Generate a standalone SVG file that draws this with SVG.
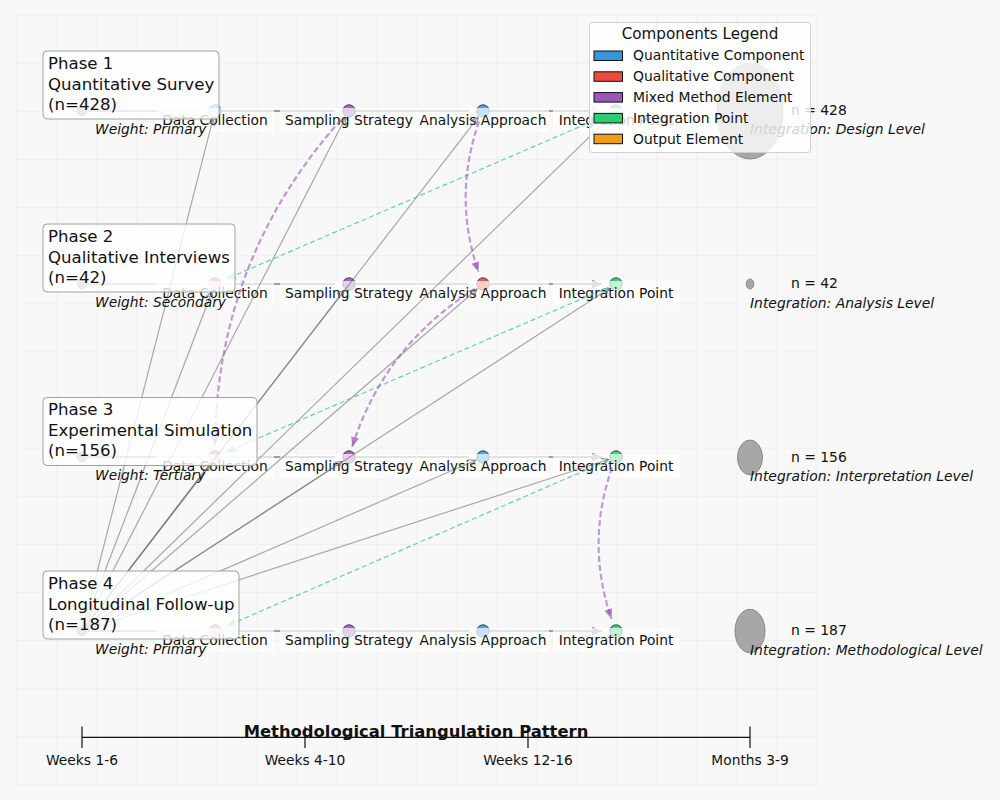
<svg xmlns="http://www.w3.org/2000/svg" width="1000" height="800" viewBox="0 0 1000 800">
<style>
text{font-family:"DejaVu Sans","Liberation Sans",sans-serif;fill:#111}
.ph{font-size:16.6px}
.lb{font-size:13.8px;text-anchor:middle}
.wt{font-size:13.8px;font-style:italic}
.nn{font-size:13.9px}
.il{font-size:13.9px;font-style:italic}
.lg{font-size:13.9px}
.tk{font-size:13.8px;text-anchor:middle}
.pbox{fill:#fff;fill-opacity:0.8;stroke:#a0a0a0;stroke-width:1}
.lbox{fill:#fff;fill-opacity:0.7}
.row{stroke:#888;stroke-opacity:0.8;stroke-width:2;fill:none;marker-end:url(#aRow)}
.fan{stroke:#666;stroke-opacity:0.55;stroke-width:1.2;fill:none;marker-end:url(#aFan)}
.grn{stroke:#2ecc71;stroke-opacity:0.75;stroke-width:1.2;stroke-dasharray:5 3;fill:none;marker-end:url(#aGrn)}
.pur{stroke:#9b59b6;stroke-opacity:0.6;stroke-width:2.2;stroke-dasharray:6 3;fill:none;marker-end:url(#aPur)}
.st{fill:#999;stroke:#777;stroke-width:0.8}
.nd{stroke:#222;stroke-width:0.8;fill-opacity:0.9}
.out{fill:#999;fill-opacity:0.85;stroke:#888;stroke-width:1}
.grid{stroke:#efefef;stroke-width:1;fill:none}
</style>
<defs>
<marker id="aRow" markerUnits="userSpaceOnUse" markerWidth="11" markerHeight="9" refX="10" refY="4.5" orient="auto"><path d="M0,0 L10,4.5 L0,9 z" fill="#999"/></marker>
<marker id="aFan" markerUnits="userSpaceOnUse" markerWidth="9" markerHeight="9" refX="7.5" refY="4" orient="auto"><path d="M0.5,0.5 L7.5,4 L0.5,7.5" fill="none" stroke="#666" stroke-width="1.2" stroke-opacity="0.7"/></marker>
<marker id="aGrn" markerUnits="userSpaceOnUse" markerWidth="11" markerHeight="9" refX="10" refY="4" orient="auto"><path d="M0,0 L10,4 L0,8 z" fill="#2ecc71" fill-opacity="0.6"/></marker>
<marker id="aPur" markerUnits="userSpaceOnUse" markerWidth="11" markerHeight="9" refX="10" refY="4" orient="auto"><path d="M0,0 L10,4 L0,8 z" fill="#9b59b6" fill-opacity="0.75"/></marker>
</defs>
<rect x="0" y="0" width="1000" height="800" fill="#f8f8f8"/>
<path class="grid" d="M17 15V785M57 15V785M97 15V785M137 15V785M177 15V785M217 15V785M257 15V785M297 15V785M337 15V785M377 15V785M417 15V785M457 15V785M497 15V785M537 15V785M577 15V785M617 15V785M657 15V785M697 15V785M737 15V785M777 15V785M817 15V785M17 15H817M17 63.1H817M17 111.3H817M17 159.4H817M17 207.5H817M17 255.6H817M17 303.8H817M17 351.9H817M17 400H817M17 448.1H817M17 496.3H817M17 544.4H817M17 592.5H817M17 640.6H817M17 688.8H817M17 736.9H817M17 785H817"/>

<g id="outputs">
<ellipse class="out" cx="750" cy="111" rx="33" ry="48"/>
<ellipse class="out" cx="750" cy="284" rx="3.8" ry="5"/>
<ellipse class="out" cx="750" cy="457.5" rx="12.5" ry="17.5"/>
<ellipse class="out" cx="750" cy="631" rx="15" ry="21.7"/>
</g>

<g id="row-arrows">
<path class="row" d="M88 111H201M222 111H335M356 111H469M490 111H602"/>
<path class="row" d="M88 284H201M222 284H335M356 284H469M490 284H602"/>
<path class="row" d="M88 457H201M222 457H335M356 457H469M490 457H602"/>
<path class="row" d="M88 631H201M222 631H335M356 631H469M490 631H602"/>
</g>

<g id="phase1-nodes">
<circle class="st" cx="82" cy="111" r="5"/>
<circle class="nd" cx="215" cy="111" r="6.2" fill="#3498db"/>
<circle class="nd" cx="349" cy="111" r="6.2" fill="#9b59b6"/>
<circle class="nd" cx="483" cy="111" r="6.2" fill="#3498db"/>
<circle class="nd" cx="616" cy="111" r="6.2" fill="#2ecc71"/>
</g>
<g id="phase2-nodes">
<circle class="st" cx="82" cy="284" r="5"/>
<circle class="nd" cx="215" cy="284" r="6.2" fill="#e74c3c"/>
<circle class="nd" cx="349" cy="284" r="6.2" fill="#9b59b6"/>
<circle class="nd" cx="483" cy="284" r="6.2" fill="#e74c3c"/>
<circle class="nd" cx="616" cy="284" r="6.2" fill="#2ecc71"/>
</g>
<g id="phase3-nodes">
<circle class="st" cx="82" cy="457" r="5"/>
<circle class="nd" cx="215" cy="457" r="6.2" fill="#e74c3c"/>
<circle class="nd" cx="349" cy="457" r="6.2" fill="#9b59b6"/>
<circle class="nd" cx="483" cy="457" r="6.2" fill="#3498db"/>
<circle class="nd" cx="616" cy="457" r="6.2" fill="#2ecc71"/>
</g>
<g id="phase4-nodes">
<circle class="st" cx="82" cy="631" r="5"/>
<circle class="nd" cx="215" cy="631" r="6.2" fill="#e74c3c"/>
<circle class="nd" cx="349" cy="631" r="6.2" fill="#9b59b6"/>
<circle class="nd" cx="483" cy="631" r="6.2" fill="#3498db"/>
<circle class="nd" cx="616" cy="631" r="6.2" fill="#2ecc71"/>
</g>

<g id="node-labels">
<rect class="lbox" x="156" y="108" width="118" height="24"/>
<rect class="lbox" x="280" y="108" width="138" height="24"/>
<rect class="lbox" x="417" y="108" width="132" height="24"/>
<rect class="lbox" x="553" y="108" width="127" height="24"/>
<text class="lb" x="215" y="125">Data Collection</text>
<text class="lb" x="349" y="125">Sampling Strategy</text>
<text class="lb" x="483" y="125">Analysis Approach</text>
<text class="lb" x="616" y="125">Integration Point</text>
<rect class="lbox" x="156" y="281" width="118" height="24"/>
<rect class="lbox" x="280" y="281" width="138" height="24"/>
<rect class="lbox" x="417" y="281" width="132" height="24"/>
<rect class="lbox" x="553" y="281" width="127" height="24"/>
<text class="lb" x="215" y="298">Data Collection</text>
<text class="lb" x="349" y="298">Sampling Strategy</text>
<text class="lb" x="483" y="298">Analysis Approach</text>
<text class="lb" x="616" y="298">Integration Point</text>
<rect class="lbox" x="156" y="454" width="118" height="24"/>
<rect class="lbox" x="280" y="454" width="138" height="24"/>
<rect class="lbox" x="417" y="454" width="132" height="24"/>
<rect class="lbox" x="553" y="454" width="127" height="24"/>
<text class="lb" x="215" y="471">Data Collection</text>
<text class="lb" x="349" y="471">Sampling Strategy</text>
<text class="lb" x="483" y="471">Analysis Approach</text>
<text class="lb" x="616" y="471">Integration Point</text>
<rect class="lbox" x="156" y="628" width="118" height="24"/>
<rect class="lbox" x="280" y="628" width="138" height="24"/>
<rect class="lbox" x="417" y="628" width="132" height="24"/>
<rect class="lbox" x="553" y="628" width="127" height="24"/>
<text class="lb" x="215" y="645">Data Collection</text>
<text class="lb" x="349" y="645">Sampling Strategy</text>
<text class="lb" x="483" y="645">Analysis Approach</text>
<text class="lb" x="616" y="645">Integration Point</text>
</g>

<g id="connectors">
<path class="fan" d="M82 631L213 118.8"/>
<path class="fan" d="M82 631L345.3 118.1"/>
<path class="fan" d="M82 631L478.1 117.3"/>
<path class="fan" d="M82 631L610.3 116.6"/>
<path class="fan" d="M82 631L212.1 291.5"/>
<path class="fan" d="M82 631L344.1 290.3"/>
<path class="fan" d="M82 631L477 289.2"/>
<path class="fan" d="M82 631L609.3 288.4"/>
<path class="fan" d="M82 631L210.1 463.4"/>
<path class="fan" d="M82 631L342.3 461.4"/>
<path class="fan" d="M82 631L475.7 460.2"/>
<path class="fan" d="M82 631L608.4 459.5"/>
<path class="grn" d="M608.7 114.2L226 279.2"/>
<path class="grn" d="M608.7 287.2L226 452.2"/>
<path class="grn" d="M608.7 460.2L226 626.2"/>
<path class="pur" d="M341 119.8Q216.8 258.7 215 445.1"/>
<path class="pur" d="M479.1 121.4Q452.6 196.6 478.5 271.9"/>
<path class="pur" d="M475 288.8Q384.6 345.4 352.1 446.9"/>
<path class="pur" d="M612.1 467.5Q585.4 543.1 611.5 618.8"/>
</g>

<g id="phase1">
<rect class="pbox" x="43" y="51" width="176" height="68" rx="4"/>
<text class="ph" x="48" y="69">Phase 1</text>
<text class="ph" x="48" y="90">Quantitative Survey</text>
<text class="ph" x="48" y="110">(n=428)</text>
<text class="wt" x="95" y="134">Weight: Primary</text>
</g>
<g id="phase2">
<rect class="pbox" x="43" y="224" width="192" height="68" rx="4"/>
<text class="ph" x="48" y="242">Phase 2</text>
<text class="ph" x="48" y="263">Qualitative Interviews</text>
<text class="ph" x="48" y="283">(n=42)</text>
<text class="wt" x="95" y="307">Weight: Secondary</text>
</g>
<g id="phase3">
<rect class="pbox" x="43" y="397.5" width="214" height="68" rx="4"/>
<text class="ph" x="48" y="415">Phase 3</text>
<text class="ph" x="48" y="436">Experimental Simulation</text>
<text class="ph" x="48" y="456">(n=156)</text>
<text class="wt" x="95" y="480">Weight: Tertiary</text>
</g>
<g id="phase4">
<rect class="pbox" x="43" y="571" width="196" height="68" rx="4"/>
<text class="ph" x="48" y="589">Phase 4</text>
<text class="ph" x="48" y="610">Longitudinal Follow-up</text>
<text class="ph" x="48" y="630">(n=187)</text>
<text class="wt" x="95" y="654">Weight: Primary</text>
</g>

<g id="output-labels">
<text class="nn" x="791" y="115">n = 428</text>
<text class="il" x="750" y="134">Integration: Design Level</text>
<text class="nn" x="791" y="288">n = 42</text>
<text class="il" x="750" y="308">Integration: Analysis Level</text>
<text class="nn" x="791" y="461.5">n = 156</text>
<text class="il" x="750" y="481">Integration: Interpretation Level</text>
<text class="nn" x="791" y="635">n = 187</text>
<text class="il" x="750" y="654.5">Integration: Methodological Level</text>
</g>

<g id="legend">
<rect x="589.5" y="22.5" width="221" height="130" rx="3" fill="#fff" fill-opacity="0.8" stroke="#cfcfcf"/>
<text x="700" y="39" style="font-size:15.2px;text-anchor:middle">Components Legend</text>
<rect x="594" y="51" width="28.5" height="9.5" fill="#3498db" stroke="#111" stroke-width="1"/>
<text class="lg" x="633" y="60.3">Quantitative Component</text>
<rect x="594" y="71.8" width="28.5" height="9.5" fill="#e74c3c" stroke="#111" stroke-width="1"/>
<text class="lg" x="633" y="81.1">Qualitative Component</text>
<rect x="594" y="92.6" width="28.5" height="9.5" fill="#9b59b6" stroke="#111" stroke-width="1"/>
<text class="lg" x="633" y="101.9">Mixed Method Element</text>
<rect x="594" y="113.4" width="28.5" height="9.5" fill="#2ecc71" stroke="#111" stroke-width="1"/>
<text class="lg" x="633" y="122.7">Integration Point</text>
<rect x="594" y="134.2" width="28.5" height="9.5" fill="#f39c12" stroke="#111" stroke-width="1"/>
<text class="lg" x="633" y="143.5">Output Element</text>
</g>

<g id="timeline">
<path d="M82 737.3H750M82 726.5V748M305 726.5V748M528 726.5V748M750 726.5V748" stroke="#111" stroke-width="1.2" fill="none"/>
<text x="416" y="737" style="font-size:16.4px;font-weight:bold;text-anchor:middle">Methodological Triangulation Pattern</text>
<text class="tk" x="82" y="765">Weeks 1-6</text>
<text class="tk" x="305" y="765">Weeks 4-10</text>
<text class="tk" x="528" y="765">Weeks 12-16</text>
<text class="tk" x="750" y="765">Months 3-9</text>
</g>
</svg>
